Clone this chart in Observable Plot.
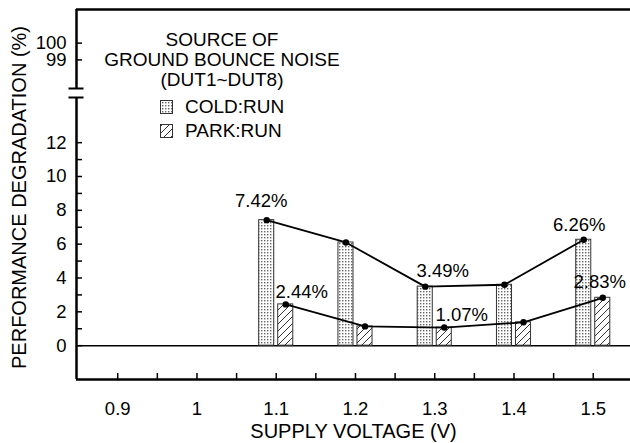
<!DOCTYPE html>
<html><head><meta charset="utf-8">
<script src="https://cdn.jsdelivr.net/npm/d3@7"></script>
<script src="https://cdn.jsdelivr.net/npm/@observablehq/plot@0.6"></script>
<style>
body{margin:0;background:#fff;}
#chart{position:relative;width:630px;height:443px;font-family:"Liberation Sans",Arial,sans-serif;}
#legend{position:absolute;left:0;top:0;pointer-events:none;}
</style></head><body>
<svg width="0" height="0" style="position:absolute">
  <defs>
    <pattern id="stipple" width="3" height="3" patternUnits="userSpaceOnUse">
      <rect width="3" height="3" fill="#fff"/>
      <rect x="0" y="0" width="1.4" height="1.4" fill="#666"/>
    </pattern>
    <pattern id="hatch" width="7" height="7" patternUnits="userSpaceOnUse">
      <rect width="7" height="7" fill="#fff"/>
      <path d="M-1,1 l2,-2 M0,7 l7,-7 M6,8 l2,-2" stroke="#333" stroke-width="1"/>
    </pattern>
  </defs>
</svg>
<div id="chart"></div>
<script>
// ---- data ----
const voltages = [1.1, 1.2, 1.3, 1.4, 1.5];
const coldRun = [7.42, 6.1, 3.49, 3.6, 6.26];
const parkRun = [2.44, 1.14, 1.07, 1.38, 2.83];
const seriesNames = ["COLD:RUN", "PARK:RUN"];
const legendTitle = ["SOURCE OF", "GROUND BOUNCE NOISE", "(DUT1~DUT8)"];
const annotatedVoltages = [1.1, 1.3, 1.5];
const xTickMarks = [0.9, 0.95, 1, 1.05, 1.1, 1.15, 1.2, 1.25, 1.3, 1.35, 1.4, 1.45, 1.5];
const xTickLabels = [0.9, 1, 1.1, 1.2, 1.3, 1.4, 1.5];
const yTickMarks = [0, 1, 2, 3, 4, 5, 6, 7, 8, 9, 10, 11, 12, 99, 100];
const yTickLabels = [0, 2, 4, 6, 8, 10, 12, 99, 100];
const xTitle = "SUPPLY VOLTAGE (V)";
const yTitle = "PERFORMANCE DEGRADATION (%)";

// ---- scale setup ----
const xDomain = [0.848, 1.547];
const yDomain = [-2, 14.67, 97.3, 102];   // piecewise (broken axis)
const yRange = [379, 97, 88, 9];
const off = 0.012, half = 0.0095;

const fills = {cold: "url(#stipple)", park: "url(#hatch)"};
const fmt = v => v.toFixed(2) + "%";

// label offsets (style)
const coldOffsets = {1.1: [-5.5, -13], 1.3: [17.5, -10], 1.5: [-4.5, -9]};
const parkOffsets = {1.1: [16, -6], 1.3: [17.5, -7], 1.5: [-3, -9.5]};

const idx = v => voltages.indexOf(v);
const FS = 18.5;

const marks = [
  // frame lines
  Plot.ruleY([yDomain[3]], {stroke: "#000", strokeWidth: 2.5}),
  Plot.ruleY([0], {stroke: "#000", strokeWidth: 1.5}),
  Plot.ruleY([yDomain[0]], {stroke: "#000", strokeWidth: 2.5}),
  Plot.ruleX([xDomain[0]], {y1: yDomain[0], y2: yDomain[1], stroke: "#000", strokeWidth: 2.5}),
  Plot.ruleX([xDomain[0]], {y1: yDomain[2], y2: yDomain[3], stroke: "#000", strokeWidth: 2.5}),
  Plot.ruleY([yDomain[1], yDomain[2]], {x1: xDomain[0] - half, x2: xDomain[0] + half, stroke: "#000", strokeWidth: 2}),
  // axes
  Plot.axisY(yTickMarks, {anchor: "left", tickSize: -6, tickFormat: () => "", strokeWidth: 1.5, label: null}),
  Plot.axisY(yTickLabels, {anchor: "left", tickSize: 0, tickPadding: 10, fontSize: FS, label: null}),
  Plot.axisX(xTickMarks, {anchor: "bottom", tickSize: -6, tickFormat: () => "", strokeWidth: 1.5, label: null}),
  Plot.axisX(xTickLabels, {anchor: "bottom", tickSize: 0, tickPadding: 22, fontSize: FS, tickFormat: d => String(d), label: null}),
  Plot.text([xTitle], {frameAnchor: "bottom", dy: 58, lineAnchor: "bottom", fontSize: 20}),
  Plot.text([yTitle], {frameAnchor: "left", rotate: -90, dx: -51, dy: 3, textAnchor: "middle", lineAnchor: "bottom", fontSize: 20}),
  // bars
  Plot.rectY(voltages, {x1: v => v - off - half, x2: v => v - off + half, y1: 0, y2: (v, i) => coldRun[i], fill: fills.cold, stroke: "#333", strokeWidth: 1}),
  Plot.rectY(voltages, {x1: v => v + off - half, x2: v => v + off + half, y1: 0, y2: (v, i) => parkRun[i], fill: fills.park, stroke: "#333", strokeWidth: 1}),
  // lines + dots
  Plot.line(voltages, {x: v => v - off, y: (v, i) => coldRun[i], stroke: "#000", strokeWidth: 1.8}),
  Plot.line(voltages, {x: v => v + off, y: (v, i) => parkRun[i], stroke: "#000", strokeWidth: 1.8}),
  Plot.dot(voltages, {x: v => v - off, y: (v, i) => coldRun[i], r: 3.2, fill: "#000"}),
  Plot.dot(voltages, {x: v => v + off, y: (v, i) => parkRun[i], r: 3.2, fill: "#000"}),
  // annotations
  ...annotatedVoltages.map(v => Plot.text([v], {x: v => v - off, y: v => coldRun[idx(v)], text: v => fmt(coldRun[idx(v)]), dx: coldOffsets[v][0], dy: coldOffsets[v][1], lineAnchor: "bottom", fontSize: FS})),
  ...annotatedVoltages.map(v => Plot.text([v], {x: v => v + off, y: v => parkRun[idx(v)], text: v => fmt(parkRun[idx(v)]), dx: parkOffsets[v][0], dy: parkOffsets[v][1], lineAnchor: "bottom", fontSize: FS}))
];

const chart = Plot.plot({
  width: 630,
  height: 443,
  marginLeft: 76,
  marginRight: 0,
  marginTop: 9,
  marginBottom: 64,
  style: {fontFamily: "'Liberation Sans', Arial, sans-serif", fontSize: "18px", color: "#000", background: "#fff"},
  x: {type: "linear", domain: xDomain, label: null},
  y: {type: "linear", domain: yDomain, range: yRange, label: null},
  marks
});
const host = document.getElementById("chart");
host.appendChild(chart);

// legend overlay
const lg = d3.select(host).append("svg").attr("id", "legend").attr("width", 630).attr("height", 443)
  .style("font-family", "'Liberation Sans', Arial, sans-serif");
legendTitle.forEach((t, i) => {
  lg.append("text").attr("x", 222).attr("y", 46 + i * 20).attr("text-anchor", "middle").attr("font-size", 19).text(t);
});
[fills.cold, fills.park].forEach((f, i) => {
  lg.append("rect").attr("x", 160.5).attr("y", 100.5 + i * 24).attr("width", 12).attr("height", 13)
    .attr("fill", f).attr("stroke", "#333").attr("stroke-width", 1);
  lg.append("text").attr("x", 185).attr("y", 113 + i * 24).attr("font-size", 19).text(seriesNames[i]);
});
</script>
</body></html>
